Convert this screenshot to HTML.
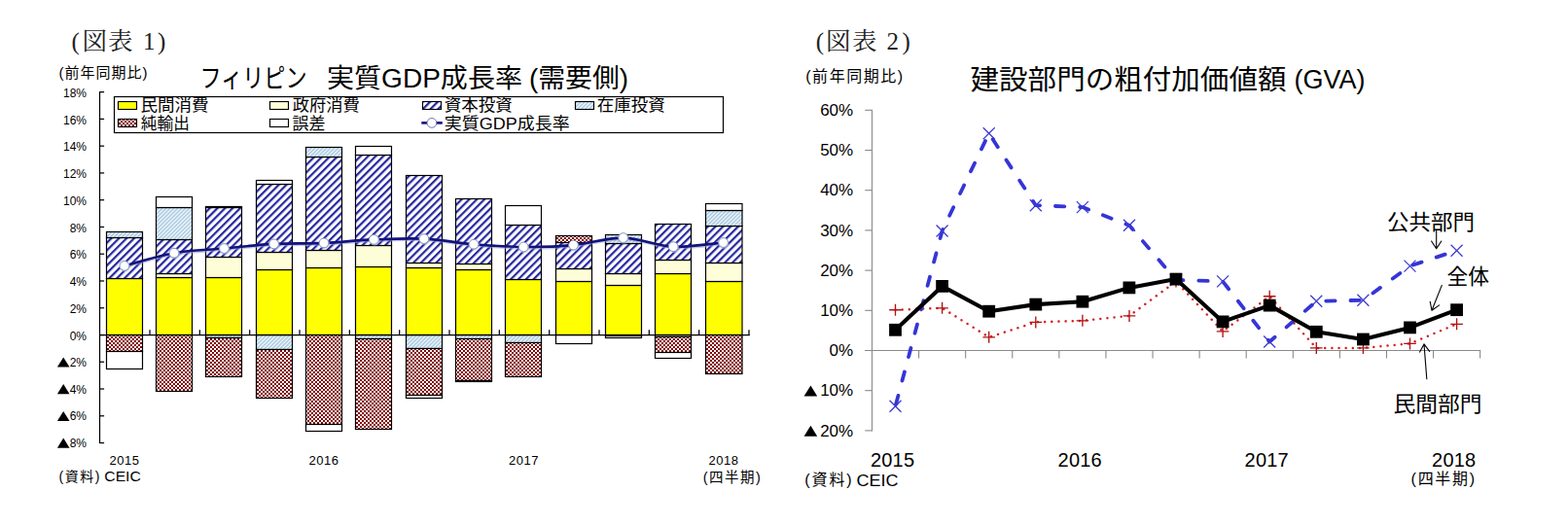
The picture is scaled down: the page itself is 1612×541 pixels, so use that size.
<!DOCTYPE html>
<html lang="ja"><head><meta charset="utf-8"><title>図表1・図表2</title>
<style>
html,body{margin:0;padding:0;background:#fff;font-family:"Liberation Sans",sans-serif;}
body{width:1612px;height:541px;overflow:hidden;}
svg{display:block;}
svg text{font-family:"Liberation Sans","Noto Sans CJK JP",sans-serif;fill:#000;}
svg text.mincho{font-family:"Liberation Serif","Noto Serif CJK SC",serif;fill:#222;}
</style></head><body>
<svg width="1612" height="541" viewBox="0 0 1612 541" role="img" aria-label="Philippines real GDP growth (demand side) and construction sector GVA charts">
<defs>
<pattern id="pn" width="5.52" height="5.52" patternUnits="userSpaceOnUse" patternTransform="translate(-1.05 0) rotate(45)"><rect width="5.52" height="5.52" fill="#fff"/><rect width="2.2" height="5.52" fill="#2626a0"/></pattern>
<pattern id="pl" width="2.8" height="2.8" patternUnits="userSpaceOnUse" patternTransform="rotate(45)"><rect width="2.8" height="2.8" fill="#f3fbff"/><rect width="1.4" height="2.8" fill="#a3c3dc"/></pattern>
<pattern id="pc" width="4" height="4" patternUnits="userSpaceOnUse" patternTransform="translate(2 2)"><rect width="4" height="4" fill="#fff"/><rect width="2" height="2" fill="#800000"/><rect x="2" y="2" width="2" height="2" fill="#800000"/></pattern>
</defs>
<g stroke="#000" stroke-width="1.2">
<rect x="109.5" y="286.5" width="37.0" height="58.0" fill="#ffff00"/>
<rect x="109.5" y="244.5" width="37.0" height="42.0" fill="url(#pn)"/>
<rect x="109.5" y="238.5" width="37.0" height="6.0" fill="url(#pl)"/>
<rect x="109.5" y="344.5" width="37.0" height="17.0" fill="url(#pc)"/>
<rect x="109.5" y="361.5" width="37.0" height="18.0" fill="#ffffff"/>
<rect x="160.5" y="285.5" width="37.0" height="59.0" fill="#ffff00"/>
<rect x="160.5" y="281.5" width="37.0" height="4.0" fill="#fdfdd8"/>
<rect x="160.5" y="246.5" width="37.0" height="35.0" fill="url(#pn)"/>
<rect x="160.5" y="213.5" width="37.0" height="33.0" fill="url(#pl)"/>
<rect x="160.5" y="202.5" width="37.0" height="11.0" fill="#ffffff"/>
<rect x="160.5" y="344.5" width="37.0" height="58.0" fill="url(#pc)"/>
<rect x="211.5" y="285.5" width="37.0" height="59.0" fill="#ffff00"/>
<rect x="211.5" y="264.5" width="37.0" height="21.0" fill="#fdfdd8"/>
<rect x="211.5" y="213.5" width="37.0" height="51.0" fill="url(#pn)"/>
<rect x="211.5" y="212.5" width="37.0" height="1.0" fill="#ffffff"/>
<rect x="211.5" y="344.5" width="37.0" height="3.0" fill="url(#pl)"/>
<rect x="211.5" y="347.5" width="37.0" height="40.0" fill="url(#pc)"/>
<rect x="263.5" y="277.5" width="37.0" height="67.0" fill="#ffff00"/>
<rect x="263.5" y="259.5" width="37.0" height="18.0" fill="#fdfdd8"/>
<rect x="263.5" y="189.5" width="37.0" height="70.0" fill="url(#pn)"/>
<rect x="263.5" y="185.5" width="37.0" height="4.0" fill="#ffffff"/>
<rect x="263.5" y="344.5" width="37.0" height="15.0" fill="url(#pl)"/>
<rect x="263.5" y="359.5" width="37.0" height="50.0" fill="url(#pc)"/>
<rect x="314.5" y="275.5" width="37.0" height="69.0" fill="#ffff00"/>
<rect x="314.5" y="257.5" width="37.0" height="18.0" fill="#fdfdd8"/>
<rect x="314.5" y="161.5" width="37.0" height="96.0" fill="url(#pn)"/>
<rect x="314.5" y="151.5" width="37.0" height="10.0" fill="url(#pl)"/>
<rect x="314.5" y="344.5" width="37.0" height="92.0" fill="url(#pc)"/>
<rect x="314.5" y="436.5" width="37.0" height="7.0" fill="#ffffff"/>
<rect x="365.5" y="274.5" width="37.0" height="70.0" fill="#ffff00"/>
<rect x="365.5" y="252.5" width="37.0" height="22.0" fill="#fdfdd8"/>
<rect x="365.5" y="159.5" width="37.0" height="93.0" fill="url(#pn)"/>
<rect x="365.5" y="150.5" width="37.0" height="9.0" fill="#ffffff"/>
<rect x="365.5" y="344.5" width="37.0" height="4.0" fill="url(#pl)"/>
<rect x="365.5" y="348.5" width="37.0" height="93.0" fill="url(#pc)"/>
<rect x="417.5" y="275.5" width="37.0" height="69.0" fill="#ffff00"/>
<rect x="417.5" y="270.5" width="37.0" height="5.0" fill="#fdfdd8"/>
<rect x="417.5" y="180.5" width="37.0" height="90.0" fill="url(#pn)"/>
<rect x="417.5" y="344.5" width="37.0" height="14.0" fill="url(#pl)"/>
<rect x="417.5" y="358.5" width="37.0" height="48.0" fill="url(#pc)"/>
<rect x="417.5" y="406.5" width="37.0" height="3.0" fill="#ffffff"/>
<rect x="468.5" y="277.5" width="37.0" height="67.0" fill="#ffff00"/>
<rect x="468.5" y="271.5" width="37.0" height="6.0" fill="#fdfdd8"/>
<rect x="468.5" y="204.5" width="37.0" height="67.0" fill="url(#pn)"/>
<rect x="468.5" y="344.5" width="37.0" height="4.0" fill="url(#pl)"/>
<rect x="468.5" y="348.5" width="37.0" height="43.0" fill="url(#pc)"/>
<rect x="468.5" y="391.5" width="37.0" height="1.0" fill="#ffffff"/>
<rect x="519.5" y="287.5" width="37.0" height="57.0" fill="#ffff00"/>
<rect x="519.5" y="231.5" width="37.0" height="56.0" fill="url(#pn)"/>
<rect x="519.5" y="211.5" width="37.0" height="20.0" fill="#ffffff"/>
<rect x="519.5" y="344.5" width="37.0" height="8.0" fill="url(#pl)"/>
<rect x="519.5" y="352.5" width="37.0" height="35.0" fill="url(#pc)"/>
<rect x="571.5" y="289.5" width="37.0" height="55.0" fill="#ffff00"/>
<rect x="571.5" y="276.5" width="37.0" height="13.0" fill="#fdfdd8"/>
<rect x="571.5" y="249.5" width="37.0" height="27.0" fill="url(#pn)"/>
<rect x="571.5" y="242.5" width="37.0" height="7.0" fill="url(#pc)"/>
<rect x="571.5" y="344.5" width="37.0" height="9.0" fill="#ffffff"/>
<rect x="622.5" y="293.5" width="37.0" height="51.0" fill="#ffff00"/>
<rect x="622.5" y="281.5" width="37.0" height="12.0" fill="#fdfdd8"/>
<rect x="622.5" y="250.5" width="37.0" height="31.0" fill="url(#pn)"/>
<rect x="622.5" y="241.5" width="37.0" height="9.0" fill="url(#pl)"/>
<rect x="622.5" y="344.5" width="37.0" height="1.0" fill="url(#pc)"/>
<rect x="622.5" y="345.5" width="37.0" height="2.0" fill="#ffffff"/>
<rect x="673.5" y="281.5" width="37.0" height="63.0" fill="#ffff00"/>
<rect x="673.5" y="267.5" width="37.0" height="14.0" fill="#fdfdd8"/>
<rect x="673.5" y="230.5" width="37.0" height="37.0" fill="url(#pn)"/>
<rect x="673.5" y="344.5" width="37.0" height="2.0" fill="url(#pl)"/>
<rect x="673.5" y="346.5" width="37.0" height="16.0" fill="url(#pc)"/>
<rect x="673.5" y="362.5" width="37.0" height="6.0" fill="#ffffff"/>
<rect x="725.5" y="289.5" width="37.5" height="55.0" fill="#ffff00"/>
<rect x="725.5" y="270.5" width="37.5" height="19.0" fill="#fdfdd8"/>
<rect x="725.5" y="232.5" width="37.5" height="38.0" fill="url(#pn)"/>
<rect x="725.5" y="216.5" width="37.5" height="16.0" fill="url(#pl)"/>
<rect x="725.5" y="209.5" width="37.5" height="7.0" fill="#ffffff"/>
<rect x="725.5" y="344.5" width="37.5" height="40.0" fill="url(#pc)"/>
</g>
<g stroke="#000" stroke-width="1.25" fill="none">
<path d="M102.5 94.2V456.0"/>
<path d="M102.5 455.54h4.6"/>
<path d="M102.5 427.78h4.6"/>
<path d="M102.5 400.02h4.6"/>
<path d="M102.5 372.26h4.6"/>
<path d="M102.5 344.50h4.6"/>
<path d="M102.5 316.74h4.6"/>
<path d="M102.5 288.98h4.6"/>
<path d="M102.5 261.22h4.6"/>
<path d="M102.5 233.46h4.6"/>
<path d="M102.5 205.70h4.6"/>
<path d="M102.5 177.94h4.6"/>
<path d="M102.5 150.18h4.6"/>
<path d="M102.5 122.42h4.6"/>
<path d="M102.5 94.66h4.6"/>
<path d="M102.5 344.5H770.8"/>
<path d="M154.03 344.5v-5.2"/>
<path d="M205.36 344.5v-5.2"/>
<path d="M256.69 344.5v-5.2"/>
<path d="M308.02 344.5v-5.2"/>
<path d="M359.35 344.5v-5.2"/>
<path d="M410.68 344.5v-5.2"/>
<path d="M462.01 344.5v-5.2"/>
<path d="M513.34 344.5v-5.2"/>
<path d="M564.67 344.5v-5.2"/>
<path d="M616.00 344.5v-5.2"/>
<path d="M667.33 344.5v-5.2"/>
<path d="M718.66 344.5v-5.2"/>
<path d="M769.99 344.5v-5.2"/>
</g>
<path d="M127.9 273.4C136.4 271.2 161.9 263.2 179.0 260.2C196.1 257.2 213.3 257.1 230.4 255.5C247.5 253.9 264.5 251.8 281.6 250.9C298.7 250.0 315.9 250.7 333.0 249.9C350.1 249.2 367.3 247.1 384.4 246.4C401.5 245.7 418.7 244.8 435.8 245.6C452.9 246.4 469.9 249.8 487.0 251.2C504.1 252.6 521.1 253.8 538.2 254.0C555.3 254.2 572.4 253.7 589.5 252.1C606.6 250.5 623.6 244.3 640.7 244.6C657.8 244.9 675.1 252.9 692.2 253.7C709.4 254.5 735.0 250.2 743.6 249.5" fill="none" stroke="#8f9ad0" stroke-width="2.2" opacity="0.55" transform="translate(0.6 1.5)"/>
<path d="M127.9 273.4C136.4 271.2 161.9 263.2 179.0 260.2C196.1 257.2 213.3 257.1 230.4 255.5C247.5 253.9 264.5 251.8 281.6 250.9C298.7 250.0 315.9 250.7 333.0 249.9C350.1 249.2 367.3 247.1 384.4 246.4C401.5 245.7 418.7 244.8 435.8 245.6C452.9 246.4 469.9 249.8 487.0 251.2C504.1 252.6 521.1 253.8 538.2 254.0C555.3 254.2 572.4 253.7 589.5 252.1C606.6 250.5 623.6 244.3 640.7 244.6C657.8 244.9 675.1 252.9 692.2 253.7C709.4 254.5 735.0 250.2 743.6 249.5" fill="none" stroke="#12127c" stroke-width="2.6" stroke-linecap="round"/>
<circle cx="127.9" cy="273.4" r="5.3" fill="#b9c3d6" opacity="0.6" transform="translate(0.6 0.9)"/>
<circle cx="127.9" cy="273.4" r="4.9" fill="#fff" stroke="#7f92bf" stroke-width="1"/>
<circle cx="179.0" cy="260.2" r="5.3" fill="#b9c3d6" opacity="0.6" transform="translate(0.6 0.9)"/>
<circle cx="179.0" cy="260.2" r="4.9" fill="#fff" stroke="#7f92bf" stroke-width="1"/>
<circle cx="230.4" cy="255.5" r="5.3" fill="#b9c3d6" opacity="0.6" transform="translate(0.6 0.9)"/>
<circle cx="230.4" cy="255.5" r="4.9" fill="#fff" stroke="#7f92bf" stroke-width="1"/>
<circle cx="281.6" cy="250.9" r="5.3" fill="#b9c3d6" opacity="0.6" transform="translate(0.6 0.9)"/>
<circle cx="281.6" cy="250.9" r="4.9" fill="#fff" stroke="#7f92bf" stroke-width="1"/>
<circle cx="333.0" cy="249.9" r="5.3" fill="#b9c3d6" opacity="0.6" transform="translate(0.6 0.9)"/>
<circle cx="333.0" cy="249.9" r="4.9" fill="#fff" stroke="#7f92bf" stroke-width="1"/>
<circle cx="384.4" cy="246.4" r="5.3" fill="#b9c3d6" opacity="0.6" transform="translate(0.6 0.9)"/>
<circle cx="384.4" cy="246.4" r="4.9" fill="#fff" stroke="#7f92bf" stroke-width="1"/>
<circle cx="435.8" cy="245.6" r="5.3" fill="#b9c3d6" opacity="0.6" transform="translate(0.6 0.9)"/>
<circle cx="435.8" cy="245.6" r="4.9" fill="#fff" stroke="#7f92bf" stroke-width="1"/>
<circle cx="487.0" cy="251.2" r="5.3" fill="#b9c3d6" opacity="0.6" transform="translate(0.6 0.9)"/>
<circle cx="487.0" cy="251.2" r="4.9" fill="#fff" stroke="#7f92bf" stroke-width="1"/>
<circle cx="538.2" cy="254.0" r="5.3" fill="#b9c3d6" opacity="0.6" transform="translate(0.6 0.9)"/>
<circle cx="538.2" cy="254.0" r="4.9" fill="#fff" stroke="#7f92bf" stroke-width="1"/>
<circle cx="589.5" cy="252.1" r="5.3" fill="#b9c3d6" opacity="0.6" transform="translate(0.6 0.9)"/>
<circle cx="589.5" cy="252.1" r="4.9" fill="#fff" stroke="#7f92bf" stroke-width="1"/>
<circle cx="640.7" cy="244.6" r="5.3" fill="#b9c3d6" opacity="0.6" transform="translate(0.6 0.9)"/>
<circle cx="640.7" cy="244.6" r="4.9" fill="#fff" stroke="#7f92bf" stroke-width="1"/>
<circle cx="692.2" cy="253.7" r="5.3" fill="#b9c3d6" opacity="0.6" transform="translate(0.6 0.9)"/>
<circle cx="692.2" cy="253.7" r="4.9" fill="#fff" stroke="#7f92bf" stroke-width="1"/>
<circle cx="743.6" cy="249.5" r="5.3" fill="#b9c3d6" opacity="0.6" transform="translate(0.6 0.9)"/>
<circle cx="743.6" cy="249.5" r="4.9" fill="#fff" stroke="#7f92bf" stroke-width="1"/>
<rect x="117.5" y="99.5" width="626" height="37" fill="#fff" stroke="#000" stroke-width="1.2"/>
<rect x="121.5" y="104.5" width="19" height="8.0" fill="#ffff00" stroke="#000" stroke-width="1.15"/>
<rect x="277.5" y="104.5" width="19" height="8.0" fill="#fdfdd8" stroke="#000" stroke-width="1.15"/>
<rect x="434.5" y="104.5" width="19" height="8.0" fill="url(#pn)" stroke="#000" stroke-width="1.15"/>
<rect x="591.5" y="104.5" width="19" height="8.0" fill="url(#pl)" stroke="#000" stroke-width="1.15"/>
<rect x="121.5" y="122.5" width="19" height="8.0" fill="url(#pc)" stroke="#000" stroke-width="1.15"/>
<rect x="277.5" y="122.5" width="19" height="8.0" fill="#ffffff" stroke="#000" stroke-width="1.15"/>
<path d="M433.3 126.4H454.8" stroke="#12127c" stroke-width="2.6"/>
<circle cx="443.9" cy="126.4" r="4.9" fill="#fff" stroke="#5a6aaa" stroke-width="0.9"/>
<text x="144.5" y="114.4" font-size="17" textLength="70" lengthAdjust="spacingAndGlyphs">民間消費</text>
<text x="300.8" y="114.4" font-size="17" textLength="69" lengthAdjust="spacingAndGlyphs">政府消費</text>
<text x="456.8" y="114.4" font-size="17" textLength="70" lengthAdjust="spacingAndGlyphs">資本投資</text>
<text x="613.8" y="114.4" font-size="17" textLength="70" lengthAdjust="spacingAndGlyphs">在庫投資</text>
<text x="144.8" y="132.9" font-size="17" textLength="50" lengthAdjust="spacingAndGlyphs">純輸出</text>
<text x="300.6" y="132.8" font-size="17" textLength="34" lengthAdjust="spacingAndGlyphs">誤差</text>
<text x="456.8" y="132.7" font-size="17" textLength="129" lengthAdjust="spacingAndGlyphs">実質GDP成長率</text>
<text class="mincho" x="73.5" y="50.5" font-size="25">(</text>
<text class="mincho" x="84.5" y="50.5" font-size="25.5" textLength="52" lengthAdjust="spacing">図表</text>
<text class="mincho" x="147" y="51.2" font-size="25">1</text>
<text class="mincho" x="162" y="50.5" font-size="25">)</text>
<text x="60.5" y="79.6" font-size="15" textLength="91" lengthAdjust="spacing">(前年同期比)</text>
<text x="205.5" y="90.2" font-size="27" textLength="110" lengthAdjust="spacingAndGlyphs">フィリピン</text>
<text x="336" y="89.9" font-size="27" textLength="201" lengthAdjust="spacingAndGlyphs">実質GDP成長率</text>
<text x="544" y="89.9" font-size="27" textLength="102" lengthAdjust="spacingAndGlyphs">(需要側)</text>
<g font-size="12" text-anchor="end">
<text x="89" y="349.5">0%</text>
<text x="89" y="321.8">2%</text>
<text x="89" y="294">4%</text>
<text x="89" y="266.3">6%</text>
<text x="89" y="238.5">8%</text>
<text x="89" y="210.7">10%</text>
<text x="89" y="183">12%</text>
<text x="89" y="155.2">14%</text>
<text x="89" y="127.5">16%</text>
<text x="89" y="99.7">18%</text>
<text x="89" y="376.9">2%</text>
<text x="89" y="404.7">4%</text>
<text x="89" y="432.4">6%</text>
<text x="89" y="460.2">8%</text>
</g>
<path d="M58.9 377.5L71.5 377.5L65.2 367.4Z" fill="#000"/>
<path d="M58.9 405.2L71.5 405.2L65.2 395.1Z" fill="#000"/>
<path d="M58.9 433.0L71.5 433.0L65.2 422.9Z" fill="#000"/>
<path d="M58.9 460.7L71.5 460.7L65.2 450.6Z" fill="#000"/>
<g font-size="13">
<text x="112.5" y="477.6" textLength="30.5" lengthAdjust="spacing">2015</text>
<text x="317.5" y="477.6" textLength="30.5" lengthAdjust="spacing">2016</text>
<text x="523" y="477.6" textLength="30.5" lengthAdjust="spacing">2017</text>
<text x="728.5" y="477.5" textLength="30.5" lengthAdjust="spacing">2018</text>
</g>
<text x="60.5" y="495.4" font-size="14" textLength="42" lengthAdjust="spacing">(資料)</text>
<text x="107.3" y="495.2" font-size="14" textLength="37.5" lengthAdjust="spacingAndGlyphs">CEIC</text>
<text x="722.8" y="495.8" font-size="14.5" textLength="59" lengthAdjust="spacing">(四半期)</text>
<g stroke="#8a8a8a" stroke-width="1.1" fill="none">
<path d="M896.5 112.8V443.4"/>
<path d="M896.5 442.90h-7.3"/>
<path d="M896.5 401.70h-7.3"/>
<path d="M896.5 360.50h-7.3"/>
<path d="M896.5 319.30h-7.3"/>
<path d="M896.5 278.10h-7.3"/>
<path d="M896.5 236.90h-7.3"/>
<path d="M896.5 195.70h-7.3"/>
<path d="M896.5 154.50h-7.3"/>
<path d="M896.5 113.30h-7.3"/>
<path d="M889.2 360.5H1522.2"/>
<path d="M944.59 360.5v8"/>
<path d="M992.68 360.5v8"/>
<path d="M1040.77 360.5v8"/>
<path d="M1088.86 360.5v8"/>
<path d="M1136.95 360.5v8"/>
<path d="M1185.04 360.5v8"/>
<path d="M1233.13 360.5v8"/>
<path d="M1281.22 360.5v8"/>
<path d="M1329.31 360.5v8"/>
<path d="M1377.40 360.5v8"/>
<path d="M1425.49 360.5v8"/>
<path d="M1473.58 360.5v8"/>
<path d="M1521.67 360.5v8"/>
</g>
<path d="M920.5 318.7L968.6 316.8L1016.7 346.8L1064.8 331.4L1112.9 329.8L1161.0 324.9L1209.0 289.5L1257.1 340.9L1305.2 304.7L1353.3 357.9L1401.4 357.9L1449.5 353.4L1497.6 333.3" fill="none" stroke="#d42020" stroke-width="2.5" stroke-dasharray="0.01 7.15" stroke-linecap="round"/>
<path d="M914.2 318.7h12.6M920.5 312.7v12" stroke="#b01212" stroke-width="1.35" fill="none"/>
<path d="M962.3 316.8h12.6M968.6 310.8v12" stroke="#b01212" stroke-width="1.35" fill="none"/>
<path d="M1010.4 346.8h12.6M1016.7 340.8v12" stroke="#b01212" stroke-width="1.35" fill="none"/>
<path d="M1058.5 331.4h12.6M1064.8 325.4v12" stroke="#b01212" stroke-width="1.35" fill="none"/>
<path d="M1106.6 329.8h12.6M1112.9 323.8v12" stroke="#b01212" stroke-width="1.35" fill="none"/>
<path d="M1154.7 324.9h12.6M1161.0 318.9v12" stroke="#b01212" stroke-width="1.35" fill="none"/>
<path d="M1202.7 289.5h12.6M1209.0 283.5v12" stroke="#b01212" stroke-width="1.35" fill="none"/>
<path d="M1250.8 340.9h12.6M1257.1 334.9v12" stroke="#b01212" stroke-width="1.35" fill="none"/>
<path d="M1298.9 304.7h12.6M1305.2 298.7v12" stroke="#b01212" stroke-width="1.35" fill="none"/>
<path d="M1347.0 357.9h12.6M1353.3 351.9v12" stroke="#b01212" stroke-width="1.35" fill="none"/>
<path d="M1395.1 357.9h12.6M1401.4 351.9v12" stroke="#b01212" stroke-width="1.35" fill="none"/>
<path d="M1443.2 353.4h12.6M1449.5 347.4v12" stroke="#b01212" stroke-width="1.35" fill="none"/>
<path d="M1491.3 333.3h12.6M1497.6 327.3v12" stroke="#b01212" stroke-width="1.35" fill="none"/>
<path d="M920.5 417.8L968.6 237.5L1016.7 137.2L1064.8 211.2L1112.9 213.1L1161.0 231.8L1209.0 288.0L1257.1 289.4L1305.2 351.5L1353.3 309.8L1401.4 308.7L1449.5 273.6L1497.6 257.7" fill="none" stroke="#3535d8" stroke-width="3.8" stroke-dasharray="9.4 15.87" stroke-dashoffset="23.37" stroke-linecap="round" stroke-linejoin="round"/>
<path d="M914.5 411.8l12 12M926.5 411.8l-12 12" stroke="#3a3ad0" stroke-width="1.25" fill="none"/>
<path d="M962.6 231.5l12 12M974.6 231.5l-12 12" stroke="#3a3ad0" stroke-width="1.25" fill="none"/>
<path d="M1010.7 131.2l12 12M1022.7 131.2l-12 12" stroke="#3a3ad0" stroke-width="1.25" fill="none"/>
<path d="M1058.8 205.2l12 12M1070.8 205.2l-12 12" stroke="#3a3ad0" stroke-width="1.25" fill="none"/>
<path d="M1106.9 207.1l12 12M1118.9 207.1l-12 12" stroke="#3a3ad0" stroke-width="1.25" fill="none"/>
<path d="M1155.0 225.8l12 12M1167.0 225.8l-12 12" stroke="#3a3ad0" stroke-width="1.25" fill="none"/>
<path d="M1203.0 282.0l12 12M1215.0 282.0l-12 12" stroke="#3a3ad0" stroke-width="1.25" fill="none"/>
<path d="M1251.1 283.4l12 12M1263.1 283.4l-12 12" stroke="#3a3ad0" stroke-width="1.25" fill="none"/>
<path d="M1299.2 345.5l12 12M1311.2 345.5l-12 12" stroke="#3a3ad0" stroke-width="1.25" fill="none"/>
<path d="M1347.3 303.8l12 12M1359.3 303.8l-12 12" stroke="#3a3ad0" stroke-width="1.25" fill="none"/>
<path d="M1395.4 302.7l12 12M1407.4 302.7l-12 12" stroke="#3a3ad0" stroke-width="1.25" fill="none"/>
<path d="M1443.5 267.6l12 12M1455.5 267.6l-12 12" stroke="#3a3ad0" stroke-width="1.25" fill="none"/>
<path d="M1491.6 251.7l12 12M1503.6 251.7l-12 12" stroke="#3a3ad0" stroke-width="1.25" fill="none"/>
<path d="M920.5 339.3L968.6 294.4L1016.7 320.2L1064.8 313.1L1112.9 310.2L1161.0 295.9L1209.0 287.1L1257.1 330.9L1305.2 314.1L1353.3 341.3L1401.4 349.0L1449.5 336.9L1497.6 318.7" fill="none" stroke="#000" stroke-width="4.1" stroke-linejoin="round"/>
<rect x="914.1" y="332.9" width="12.8" height="12.8" fill="#000"/>
<rect x="962.2" y="288.0" width="12.8" height="12.8" fill="#000"/>
<rect x="1010.3" y="313.8" width="12.8" height="12.8" fill="#000"/>
<rect x="1058.4" y="306.7" width="12.8" height="12.8" fill="#000"/>
<rect x="1106.5" y="303.8" width="12.8" height="12.8" fill="#000"/>
<rect x="1154.5" y="289.5" width="12.8" height="12.8" fill="#000"/>
<rect x="1202.6" y="280.7" width="12.8" height="12.8" fill="#000"/>
<rect x="1250.7" y="324.5" width="12.8" height="12.8" fill="#000"/>
<rect x="1298.8" y="307.7" width="12.8" height="12.8" fill="#000"/>
<rect x="1346.9" y="334.9" width="12.8" height="12.8" fill="#000"/>
<rect x="1395.0" y="342.6" width="12.8" height="12.8" fill="#000"/>
<rect x="1443.1" y="330.5" width="12.8" height="12.8" fill="#000"/>
<rect x="1491.2" y="312.3" width="12.8" height="12.8" fill="#000"/>
<g font-size="17" text-anchor="end">
<text x="877.2" y="366.1">0%</text>
<text x="877.2" y="324.9">10%</text>
<text x="877.2" y="283.7">20%</text>
<text x="877.2" y="242.5">30%</text>
<text x="877.2" y="201.3">40%</text>
<text x="877.2" y="160.1">50%</text>
<text x="877.2" y="118.9">60%</text>
<text x="877.2" y="407.3">10%</text>
<text x="877.2" y="448.5">20%</text>
</g>
<path d="M826.6 407.6L840.2 407.6L833.4 396.6Z" fill="#000"/>
<path d="M826.6 448.8L840.2 448.8L833.4 437.8Z" fill="#000"/>
<g font-size="20">
<text x="895" y="479.9" textLength="45" lengthAdjust="spacing">2015</text>
<text x="1087.6" y="479.9" textLength="45" lengthAdjust="spacing">2016</text>
<text x="1279.6" y="479.9" textLength="45" lengthAdjust="spacing">2017</text>
<text x="1472.1" y="479.9" textLength="45" lengthAdjust="spacing">2018</text>
</g>
<text x="827.2" y="499.4" font-size="16" textLength="48.5" lengthAdjust="spacing">(資料)</text>
<text x="880.6" y="500.1" font-size="16" textLength="43" lengthAdjust="spacingAndGlyphs">CEIC</text>
<text x="1450.6" y="498" font-size="16" textLength="65.5" lengthAdjust="spacing">(四半期)</text>
<text class="mincho" x="838.7" y="50.5" font-size="25">(</text>
<text class="mincho" x="849" y="50.5" font-size="25.5" textLength="52.5" lengthAdjust="spacing">図表</text>
<text class="mincho" x="911.5" y="51.4" font-size="25">2</text>
<text class="mincho" x="927.6" y="50.5" font-size="25">)</text>
<text x="828.2" y="83.8" font-size="16" textLength="100" lengthAdjust="spacing">(前年同期比)</text>
<text x="997.5" y="91.8" font-size="28" textLength="325" lengthAdjust="spacingAndGlyphs">建設部門の粗付加価値額</text>
<text x="1330.6" y="91.2" font-size="27" textLength="73" lengthAdjust="spacingAndGlyphs">(GVA)</text>
<text x="1426" y="235.8" font-size="22" textLength="90" lengthAdjust="spacingAndGlyphs">公共部門</text>
<text x="1487.6" y="291.5" font-size="22" textLength="43.5" lengthAdjust="spacingAndGlyphs">全体</text>
<text x="1432.6" y="422.6" font-size="22" textLength="91" lengthAdjust="spacingAndGlyphs">民間部門</text>
<path d="M1476.7 236.5L1476.7 255.8M1476.7 255.8L1471.6 248.0M1476.7 255.8L1481.8 248.0" stroke="#000" stroke-width="1.1" fill="none" stroke-linecap="round"/>
<path d="M1482.3 293.4L1472.0 319.3M1472.0 319.3L1470.2 310.2M1472.0 319.3L1479.6 313.9" stroke="#000" stroke-width="1.1" fill="none" stroke-linecap="round"/>
<path d="M1466.8 389.7L1464.0 353.9M1464.0 353.9L1469.7 361.3M1464.0 353.9L1459.6 362.1" stroke="#000" stroke-width="1.1" fill="none" stroke-linecap="round"/>
</svg>
</body></html>
